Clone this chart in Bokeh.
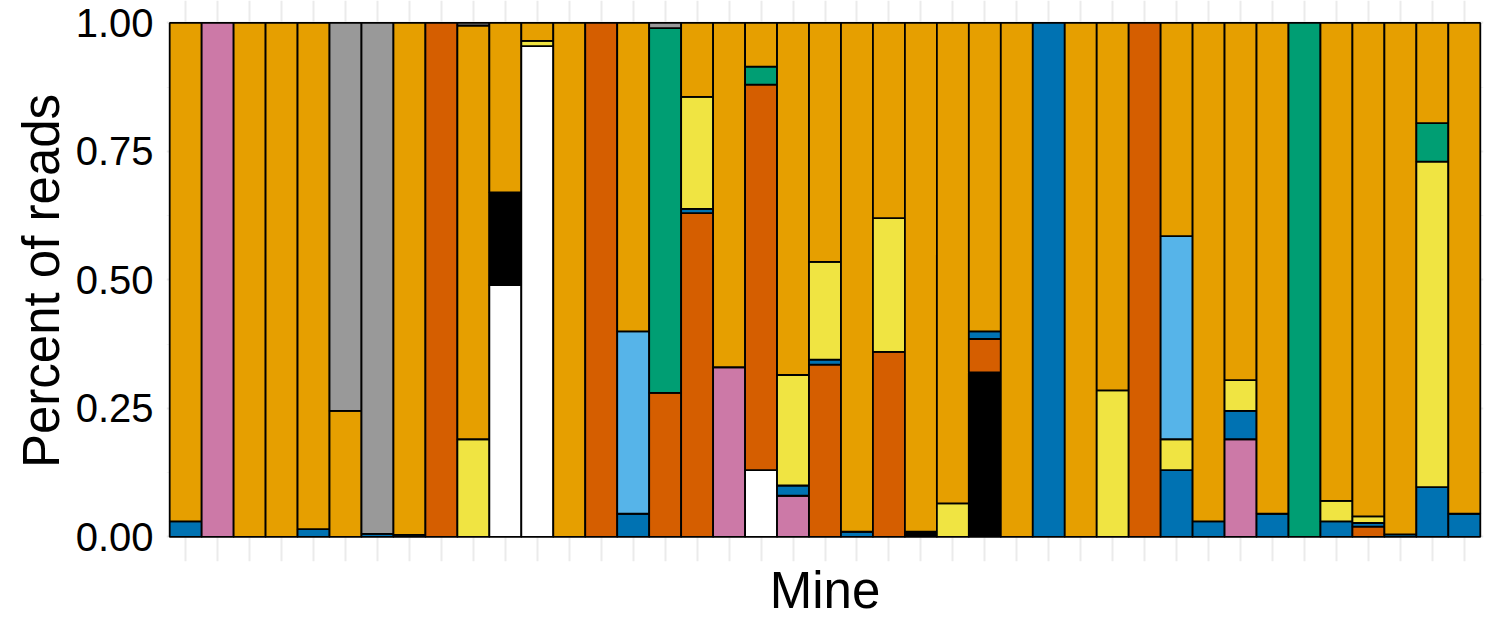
from bokeh.plotting import figure
from bokeh.models import Range1d, FixedTicker, NumeralTickFormatter, ColumnDataSource
from bokeh.embed import file_html
from bokeh.resources import INLINE

samples = list(range(1, 42))

# stacking order bottom -> top
groups = ["white", "black", "pink", "vermillion", "blue",
          "yellow", "skyblue", "green", "orange", "grey"]
colors = {"white": "#FFFFFF", "black": "#000000", "pink": "#CC79A7",
          "vermillion": "#D55E00", "blue": "#0072B2", "yellow": "#F0E442",
          "skyblue": "#56B4E9", "green": "#009E73", "orange": "#E69F00",
          "grey": "#999999"}

white = [0, 0, 0, 0, 0, 0, 0, 0, 0, 0,
         0.49, 0.955, 0, 0, 0, 0, 0, 0, 0.13, 0,
         0, 0, 0, 0, 0, 0, 0, 0, 0, 0,
         0, 0, 0, 0, 0, 0, 0, 0, 0, 0,
         0]
black = [0, 0, 0, 0, 0, 0, 0, 0, 0, 0,
         0.18, 0, 0, 0, 0, 0, 0, 0, 0, 0,
         0, 0, 0, 0.01, 0, 0.32, 0, 0, 0, 0,
         0, 0, 0, 0, 0, 0, 0, 0, 0, 0,
         0]
pink = [0, 1.0, 0, 0, 0, 0, 0, 0, 0, 0,
        0, 0, 0, 0, 0, 0, 0, 0.33, 0, 0.08,
        0, 0, 0, 0, 0, 0, 0, 0, 0, 0,
        0, 0, 0, 0.19, 0, 0, 0, 0, 0, 0,
        0]
vermillion = [0, 0, 0, 0, 0, 0, 0, 0, 1.0, 0,
              0, 0, 0, 1.0, 0, 0.28, 0.63, 0, 0.75, 0,
              0.335, 0, 0.36, 0, 0, 0.065, 0, 0, 0, 0,
              1.0, 0, 0, 0, 0, 0, 0, 0.02, 0, 0,
              0]
blue = [0.03, 0, 0, 0, 0.015, 0, 0.006, 0.004, 0, 0,
        0, 0, 0, 0, 0.045, 0, 0.008, 0, 0, 0.02,
        0.01, 0.01, 0, 0, 0, 0.015, 0, 1.0, 0, 0,
        0, 0.13, 0.03, 0.055, 0.045, 0, 0.03, 0.007, 0.005, 0.097,
        0.045]
yellow = [0, 0, 0, 0, 0, 0, 0, 0, 0, 0.19,
          0, 0.01, 0, 0, 0, 0, 0.218, 0, 0, 0.215,
          0.19, 0, 0.26, 0, 0.065, 0, 0, 0, 0, 0.285,
          0, 0.06, 0, 0.06, 0, 0, 0.04, 0.013, 0, 0.633,
          0]
skyblue = [0, 0, 0, 0, 0, 0, 0, 0, 0, 0,
           0, 0, 0, 0, 0.355, 0, 0, 0, 0, 0,
           0, 0, 0, 0, 0, 0, 0, 0, 0, 0,
           0, 0.395, 0, 0, 0, 0, 0, 0, 0, 0,
           0]
green = [0, 0, 0, 0, 0, 0, 0, 0, 0, 0,
         0, 0, 0, 0, 0, 0.71, 0, 0, 0.035, 0,
         0, 0, 0, 0, 0, 0, 0, 0, 0, 0,
         0, 0, 0, 0, 0, 1.0, 0, 0, 0, 0.075,
         0]
orange = [0.97, 0, 1.0, 1.0, 0.985, 0.245, 0, 0.996, 0, 0.805,
          0.33, 0.035, 1.0, 0, 0.60, 0, 0.144, 0.67, 0.085, 0.685,
          0.465, 0.99, 0.38, 0.99, 0.935, 0.60, 1.0, 0, 1.0, 0.715,
          0, 0.415, 0.97, 0.695, 0.955, 0, 0.93, 0.96, 0.995, 0.195,
          0.955]
grey = [0, 0, 0, 0, 0, 0.755, 0.994, 0, 0, 0.005,
        0, 0, 0, 0, 0, 0.01, 0, 0, 0, 0,
        0, 0, 0, 0, 0, 0, 0, 0, 0, 0,
        0, 0, 0, 0, 0, 0, 0, 0, 0, 0,
        0]

y_ticks = [0, 0.25, 0.5, 0.75, 1.0]
x_title = "Mine"
y_title = "Percent of reads"

series = {"white": white, "black": black, "pink": pink, "vermillion": vermillion,
          "blue": blue, "yellow": yellow, "skyblue": skyblue, "green": green,
          "orange": orange, "grey": grey}

xs, bottoms, tops, fills, names = [], [], [], [], []
for i, s in enumerate(samples):
    base = 0.0
    for g in groups:
        v = series[g][i]
        if v > 0:
            xs.append(s)
            bottoms.append(base)
            tops.append(base + v)
            fills.append(colors[g])
            names.append(g)
        base += v

src = ColumnDataSource(dict(x=xs, bottom=bottoms, top=tops, fill=fills, group=names))

p = figure(width=1486, height=621, output_backend="svg", toolbar_location=None,
           x_range=Range1d(0.4, 41.6), y_range=Range1d(-0.0479, 1.0436),
           min_border_left=166, min_border_right=3, min_border_top=0,
           min_border_bottom=58)
p.outline_line_color = None
p.background_fill_color = "white"

p.vbar(x="x", bottom="bottom", top="top", width=1.0, source=src,
       fill_color="fill", line_color="black", line_width=1.8)

# grids
p.xgrid.ticker = FixedTicker(ticks=samples)
p.xgrid.grid_line_color = "#EBEBEB"
p.xgrid.grid_line_width = 2
p.ygrid.ticker = FixedTicker(ticks=y_ticks, minor_ticks=[0.125, 0.375, 0.625, 0.875])
p.ygrid.grid_line_color = "#EBEBEB"
p.ygrid.grid_line_width = 2
p.ygrid.minor_grid_line_color = "#F2F2F2"
p.ygrid.minor_grid_line_width = 1

# x axis: no ticks/labels, only the title
p.xaxis.ticker = FixedTicker(ticks=[])
p.xaxis.axis_line_color = None
p.xaxis.major_tick_line_color = None
p.xaxis.minor_tick_line_color = None
p.xaxis.major_tick_out = 0
p.xaxis.major_tick_in = 0
p.xaxis.minor_tick_out = 0
p.xaxis.major_label_standoff = 0
p.xaxis.axis_label = x_title
p.xaxis.axis_label_text_font = "Liberation Sans"
p.xaxis.axis_label_text_font_size = "51px"
p.xaxis.axis_label_text_font_style = "normal"
p.xaxis.axis_label_text_color = "black"
p.xaxis.axis_label_standoff = 0

# y axis
p.yaxis.ticker = FixedTicker(ticks=y_ticks)
p.yaxis.formatter = NumeralTickFormatter(format="0.00")
p.yaxis.axis_line_color = None
p.yaxis.major_tick_line_color = None
p.yaxis.minor_tick_line_color = None
p.yaxis.major_tick_out = 0
p.yaxis.major_tick_in = 0
p.yaxis.minor_tick_out = 0
p.yaxis.major_label_text_font = "Liberation Sans"
p.yaxis.major_label_text_font_size = "40px"
p.yaxis.major_label_text_color = "black"
p.yaxis.major_label_standoff = 13
p.yaxis.axis_label = y_title
p.yaxis.axis_label_text_font = "Liberation Sans"
p.yaxis.axis_label_text_font_size = "51px"
p.yaxis.axis_label_text_font_style = "normal"
p.yaxis.axis_label_text_color = "black"
p.yaxis.axis_label_standoff = 3

open("out.html", "w").write(file_html(p, INLINE))
